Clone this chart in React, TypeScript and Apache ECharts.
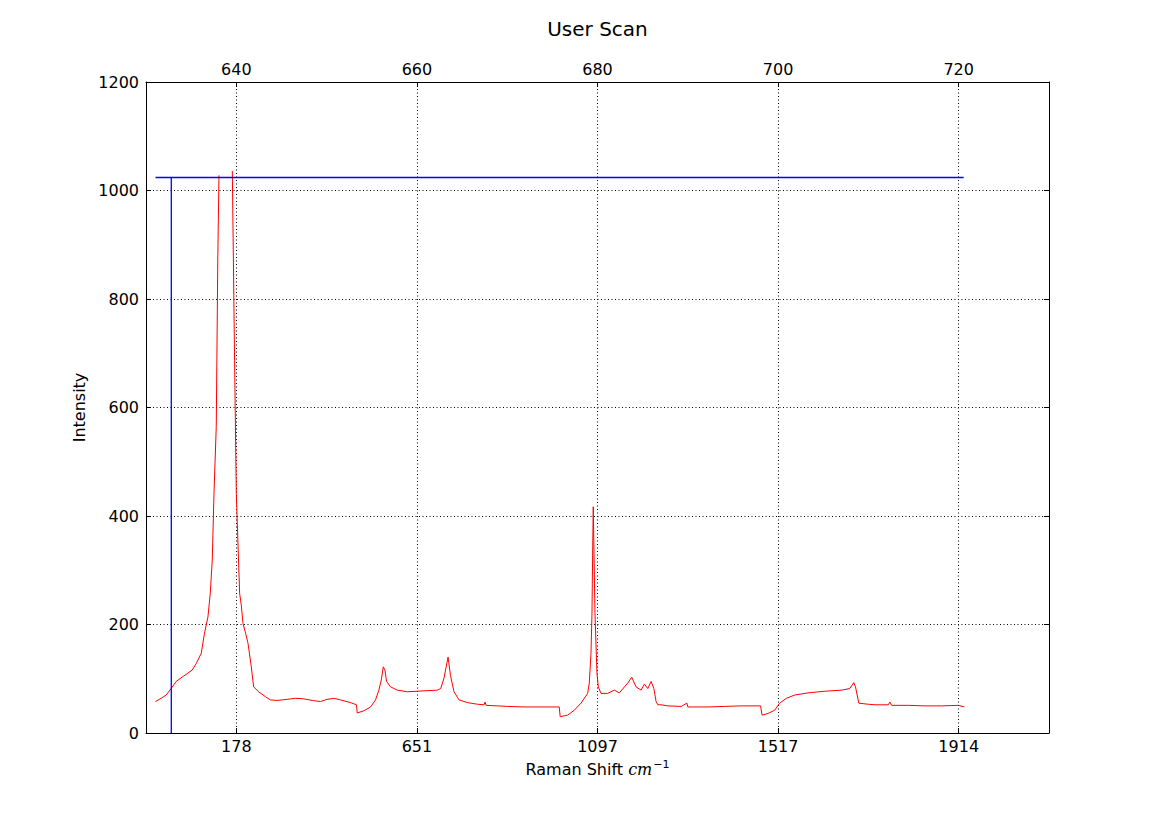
import React, { useEffect, useRef } from "react";
import * as echarts from "echarts";

// Spectrum (wavelength in nm, intensity in counts); null marks the saturated gap
const wavelengths = [
  631.05, 631.68, 632.23, 632.79, 633.34, 634.09, 635.12, 635.56, 636.12, 636.48,
  636.86, 637.12, 637.34, 637.53, 637.78, 637.95, 638.08, 638.8, 639.56, 639.81,
  640.0, 640.37, 640.55, 640.74, 641.03, 641.3, 641.66, 641.92, 642.47, 643.22,
  643.77, 644.52, 645.07, 645.63, 646.55, 647.47, 648.4, 649.32, 650.06, 650.8,
  651.54, 652.65, 653.31, 653.39, 654.13, 654.87, 655.42, 655.79, 656.06, 656.28,
  656.46, 656.64, 657.09, 657.83, 658.94, 660.05, 661.16, 662.27, 662.64, 663.0,
  663.45, 663.72, 664.11, 664.67, 665.6, 666.71, 667.44, 667.55, 667.66, 668.93,
  670.04, 671.88, 673.73, 675.76, 675.87, 676.69, 677.43, 678.17, 678.91, 679.09,
  679.28, 679.39, 679.47, 679.53, 679.72, 679.94, 680.09, 680.39, 681.13, 681.86,
  682.42, 683.35, 683.79, 684.27, 684.83, 685.19, 685.57, 685.94, 686.24, 686.49,
  686.68, 687.05, 687.79, 689.27, 689.9, 690.01, 692.23, 694.07, 695.92, 698.06,
  698.22, 698.88, 699.62, 700.17, 700.92, 701.84, 703.32, 705.17, 707.02, 707.94,
  708.38, 708.57, 708.94, 709.98, 710.71, 712.2, 712.38, 712.57, 714.42, 716.26,
  718.11, 719.97, 720.63,
];
const intensities: (number | null)[] = [
  58, 64, 70, 82, 95, 104, 116, 128, 147, 184,
  214, 258, 319, 442, 565, 872, 1028, null, 1036, 687,
  442, 257, 236, 202, 184, 165, 122, 85, 76, 67,
  61, 60, 61, 62, 64, 63, 60, 58, 62, 64,
  61, 56, 52, 37, 41, 48, 61, 79, 98, 122,
  116, 95, 85, 79, 76, 77, 78, 79, 82, 101,
  140, 106, 76, 61, 56, 53, 52, 57, 51, 50,
  49, 48, 48, 48, 30, 33, 42, 55, 73, 92,
  147, 221, 343, 417, 221, 110, 85, 73, 73, 79,
  74, 92, 103, 85, 79, 90, 82, 95, 82, 58,
  52, 52, 50, 49, 55, 48, 48, 49, 50, 50,
  33, 36, 42, 55, 64, 70, 74, 77, 79, 82,
  93, 85, 55, 53, 52, 52, 57, 51, 51, 50,
  50, 51, 48,
];

// Reference lines: saturation level and laser line
const saturationLevel = 1024;
const saturationStart = 631.05;
const saturationEnd = 720.55;
const laserWavelength = 632.8;

// Axes
const xMin = 630;
const xMax = 730;
const topTicks = [640, 660, 680, 700, 720];
const bottomTickLabels = ["178", "651", "1097", "1517", "1914"];
const yTicks = [0, 200, 400, 600, 800, 1000, 1200];

const FONT = "DejaVu Sans";

export default function App() {
  const ref = useRef<HTMLDivElement>(null);
  useEffect(() => {
    if (!ref.current) return;
    const chart = echarts.init(ref.current, null, { renderer: "svg" });
    const labelStyle = { color: "#000", fontFamily: FONT, fontSize: 16 };
    const dotted = { color: "#000", width: 1, type: [1, 2.5] as any };
    chart.setOption({
      animation: false,
      backgroundColor: "#fff",
      grid: { left: 146, right: 116, top: 82, bottom: 82, containLabel: false },
      graphic: [
        {
          type: "text",
          x: 597.5,
          y: 29,
          style: {
            text: "User Scan",
            fill: "#000",
            font: `20px "${FONT}"`,
            align: "center",
            verticalAlign: "middle",
          },
        },
      ],
      xAxis: [
        {
          type: "value",
          position: "top",
          min: xMin,
          max: xMax,
          axisLine: { show: true, onZero: false, lineStyle: { color: "#000", width: 1 } },
          axisTick: { show: true, inside: true, length: 5, customValues: topTicks, lineStyle: { color: "#000" } },
          axisLabel: { ...labelStyle, margin: 5, customValues: topTicks },
          splitLine: { show: true, lineStyle: dotted },
        },
        {
          type: "value",
          position: "bottom",
          min: xMin,
          max: xMax,
          axisLine: { show: true, onZero: false, lineStyle: { color: "#000", width: 1 } },
          axisTick: { show: true, inside: true, length: 5, customValues: topTicks, lineStyle: { color: "#000" } },
          axisLabel: {
            ...labelStyle,
            margin: 5,
            customValues: topTicks,
            formatter: (v: number) => {
              const i = topTicks.indexOf(Math.round(v));
              return i >= 0 ? bottomTickLabels[i] : "";
            },
          },
          splitLine: { show: false },
          name: "{a|Raman Shift }{b|cm}{c|−1}",
          nameLocation: "middle",
          nameGap: 26,
          nameTextStyle: {
            rich: {
              a: { fontFamily: FONT, fontSize: 16, color: "#000" },
              b: { fontFamily: "DejaVu Serif", fontStyle: "italic", fontSize: 16, color: "#000" },
              c: { fontFamily: "DejaVu Sans", fontSize: 11, color: "#000", padding: [0, 0, 9, 1] },
            },
          },
        },
      ],
      yAxis: [
        {
          type: "value",
          position: "left",
          min: 0,
          max: 1200,
          interval: 200,
          axisLine: { show: true, onZero: false, lineStyle: { color: "#000", width: 1 } },
          axisTick: { show: true, inside: true, length: 5, lineStyle: { color: "#000" } },
          axisLabel: { ...labelStyle, margin: 7, formatter: (v: number) => (yTicks.includes(v) ? String(v) : "") },
          splitLine: { show: true, lineStyle: dotted },
          name: "Intensity",
          nameLocation: "middle",
          nameGap: 56,
          nameTextStyle: { fontFamily: FONT, fontSize: 16, color: "#000" },
        },
        {
          type: "value",
          position: "right",
          min: 0,
          max: 1200,
          interval: 200,
          axisLine: { show: true, onZero: false, lineStyle: { color: "#000", width: 1 } },
          axisTick: { show: true, inside: true, length: 5, lineStyle: { color: "#000" } },
          axisLabel: { show: false },
          splitLine: { show: false },
        },
      ],
      series: [
        {
          type: "line",
          xAxisIndex: 0,
          yAxisIndex: 0,
          showSymbol: false,
          connectNulls: false,
          lineStyle: { color: "#ff0000", width: 1 },
          data: wavelengths.map((w, i) => [w, intensities[i]]),
        },
        {
          type: "line",
          xAxisIndex: 0,
          yAxisIndex: 0,
          showSymbol: false,
          lineStyle: { color: "#0000ff", width: 1.3 },
          data: [
            [saturationStart, saturationLevel],
            [saturationEnd, saturationLevel],
          ],
        },
        {
          type: "line",
          xAxisIndex: 0,
          yAxisIndex: 0,
          showSymbol: false,
          lineStyle: { color: "#0000ff", width: 1.3 },
          data: [
            [laserWavelength, 0],
            [laserWavelength, saturationLevel],
          ],
        },
      ],
    });
    return () => chart.dispose();
  }, []);
  return (
    <div
      ref={ref}
      style={{ position: "fixed", left: 0, top: 0, width: 1165, height: 815, background: "#fff" }}
    />
  );
}
